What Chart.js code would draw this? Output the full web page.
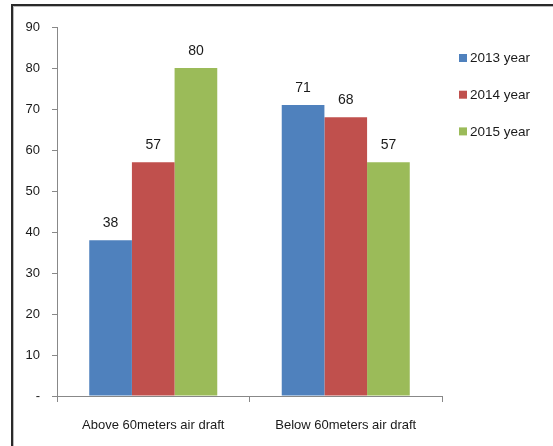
<!DOCTYPE html>
<html>
<head>
<meta charset="utf-8">
<script src="https://cdn.jsdelivr.net/npm/chart.js@4/dist/chart.umd.min.js"></script>
<style>
  html, body { margin: 0; padding: 0; background: #fff; }
  #wrap { position: relative; width: 553px; height: 446px; overflow: hidden; }
  #frame { position: absolute; left: 11px; top: 4px; width: 600px; height: 500px;
           border-left: 2px solid #2a2a2a; border-top: 2px solid #2a2a2a; pointer-events: none; }
  #frame2 { position: absolute; left: 13px; top: 6px; width: 600px; height: 500px;
           border-left: 1px solid #bbb; border-top: 1px solid #bbb; pointer-events: none; }
  canvas { position: absolute; left: 0; top: 0; }
</style>
</head>
<body>
<div id="wrap">
  <canvas id="c" width="553" height="446"></canvas>
  <div id="frame"></div>
  <div id="frame2"></div>
</div>
<script>
const categories = ["Above 60meters air draft", "Below 60meters air draft"];
const seriesNames = ["2013 year", "2014 year", "2015 year"];
const values2013 = [38, 71];
const values2014 = [57, 68];
const values2015 = [80, 57];
const seriesColors = ["#4F81BD", "#C0504D", "#9BBB59"];

const FONT = "'Liberation Sans', Arial, sans-serif";

const valueLabels = {
  id: 'valueLabels',
  afterDatasetsDraw(chart) {
    const ctx = chart.ctx;
    ctx.save();
    ctx.font = "14px " + FONT;
    ctx.fillStyle = "#1a1a1a";
    ctx.textAlign = "center";
    ctx.textBaseline = "alphabetic";
    chart.data.datasets.forEach((ds, i) => {
      chart.getDatasetMeta(i).data.forEach((bar, j) => {
        ctx.fillText(String(ds.data[j]), bar.x, bar.y - 13);
      });
    });
    ctx.restore();
  }
};

const sideLegend = {
  id: 'sideLegend',
  afterDraw(chart) {
    const ctx = chart.ctx;
    ctx.save();
    ctx.font = "13.5px " + FONT;
    ctx.textBaseline = "middle";
    ctx.textAlign = "left";
    chart.data.datasets.forEach((ds, i) => {
      const y = 58 + i * 36.7;
      ctx.fillStyle = ds.backgroundColor;
      ctx.fillRect(459, y - 4, 8, 8);
      ctx.fillStyle = "#1a1a1a";
      ctx.fillText(ds.label, 470, y + 0.5);
    });
    ctx.restore();
  }
};

new Chart(document.getElementById('c'), {
  type: 'bar',
  data: {
    labels: categories,
    datasets: [
      { label: seriesNames[0], data: values2013, backgroundColor: seriesColors[0] },
      { label: seriesNames[1], data: values2014, backgroundColor: seriesColors[1] },
      { label: seriesNames[2], data: values2015, backgroundColor: seriesColors[2] }
    ]
  },
  options: {
    responsive: false,
    animation: false,
    layout: { padding: { left: 0, top: 27, right: 111, bottom: 0 } },
    datasets: { bar: { categoryPercentage: 0.665, barPercentage: 1.0, borderWidth: 0 } },
    plugins: { legend: { display: false }, tooltip: { enabled: false } },
    scales: {
      y: {
        min: 0, max: 90,
        ticks: {
          stepSize: 10, padding: 12, color: "#1a1a1a",
          font: { family: FONT, size: 13 },
          callback: (v) => v === 0 ? "-" : String(v)
        },
        grid: { drawOnChartArea: false, drawTicks: true, tickLength: 5, color: "#888" },
        border: { color: "#888", width: 1 },
        afterFit: (s) => { s.width = 57; }
      },
      x: {
        ticks: { color: "#1a1a1a", padding: 16, font: { family: FONT, size: 13 } },
        grid: { offset: true, drawOnChartArea: false, drawTicks: true, tickLength: 6, color: "#888" },
        border: { color: "#888", width: 1 },
        afterFit: (s) => { s.height = 50; }
      }
    }
  },
  plugins: [valueLabels, sideLegend]
});
</script>
</body>
</html>
